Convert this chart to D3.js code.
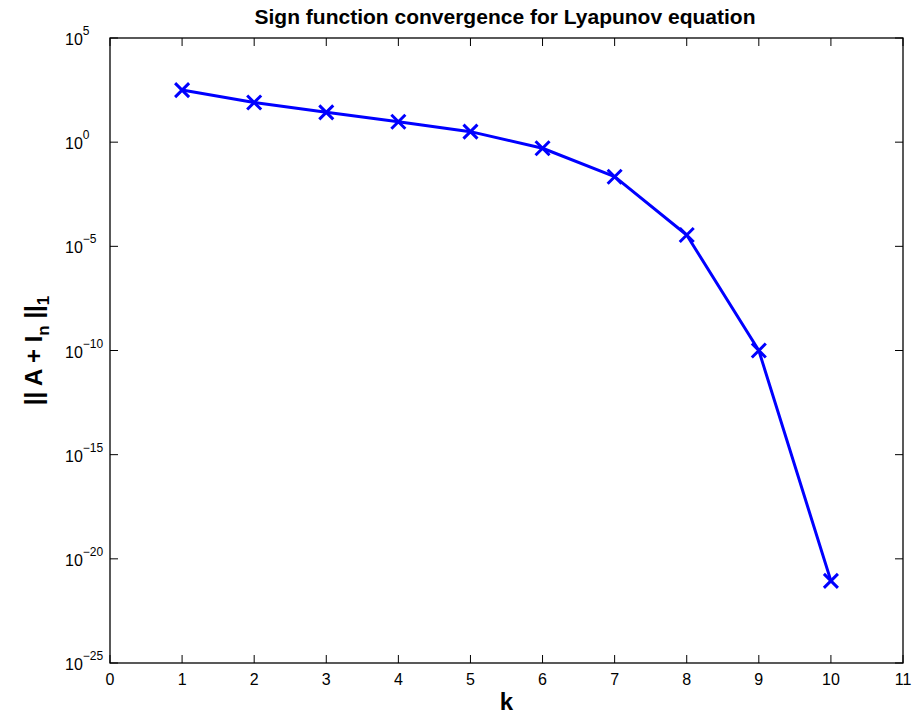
<!DOCTYPE html>
<html>
<head>
<meta charset="utf-8">
<script src="https://cdn.jsdelivr.net/npm/d3@7"></script>
<style>
  body { margin: 0; background: #fff; }
  svg { display: block; font-family: "Liberation Sans", Arial, sans-serif; }
</style>
</head>
<body>
<div id="chart"></div>
<script>
const iterations = [1, 2, 3, 4, 5, 6, 7, 8, 9, 10];
const residuals = [316, 80, 27, 9.6, 3.2, 0.51, 0.022, 3.5e-5, 1.0e-10, 8.7e-22];
const xTicks = [0, 1, 2, 3, 4, 5, 6, 7, 8, 9, 10, 11];
const yExponents = [5, 0, -5, -10, -15, -20, -25];

const width = 924;
const height = 715;
const margin = { top: 38, right: 21, bottom: 52, left: 110 };
const boundedWidth = width - margin.left - margin.right;
const boundedHeight = height - margin.top - margin.bottom;
const lineBlue = "#0000ff";

const svg = d3.select("#chart")
  .append("svg")
  .attr("width", width)
  .attr("height", height);

const g = svg.append("g")
  .attr("transform", `translate(${margin.left}, ${margin.top})`);

const x = d3.scaleLinear().domain([0, 11]).range([0, boundedWidth]);
const y = d3.scaleLog().domain([1e-25, 1e5]).range([boundedHeight, 0]);

const tickLen = 8;

// axes frame
g.append("rect")
  .attr("width", boundedWidth)
  .attr("height", boundedHeight)
  .attr("fill", "none")
  .attr("stroke", "#000")
  .attr("stroke-width", 1.3);

// x ticks (bottom + top, inward)
xTicks.forEach((t) => {
  g.append("line")
    .attr("x1", x(t)).attr("x2", x(t))
    .attr("y1", boundedHeight).attr("y2", boundedHeight - tickLen)
    .attr("stroke", "#000");
  g.append("line")
    .attr("x1", x(t)).attr("x2", x(t))
    .attr("y1", 0).attr("y2", tickLen)
    .attr("stroke", "#000");
  g.append("text")
    .attr("x", x(t))
    .attr("y", boundedHeight + 22)
    .attr("text-anchor", "middle")
    .style("font-size", "16px")
    .text(t);
});

// y ticks (left + right, inward)
yExponents.forEach((e) => {
  const yy = y(Math.pow(10, e));
  g.append("line")
    .attr("x1", 0).attr("x2", tickLen)
    .attr("y1", yy).attr("y2", yy)
    .attr("stroke", "#000");
  g.append("line")
    .attr("x1", boundedWidth).attr("x2", boundedWidth - tickLen)
    .attr("y1", yy).attr("y2", yy)
    .attr("stroke", "#000");
  const label = g.append("text")
    .attr("x", -45)
    .attr("y", yy + 7)
    .attr("text-anchor", "start")
    .style("font-size", "16px");
  label.append("tspan").text("10");
  label.append("tspan")
    .attr("dy", -10)
    .style("font-size", "12px")
    .text(e < 0 ? "\u2212" + Math.abs(e) : e);
});

const points = iterations.map((k, i) => ({ k, v: residuals[i] }));

const line = d3.line()
  .x((d) => x(d.k))
  .y((d) => y(d.v));

g.append("path")
  .datum(points)
  .attr("d", line)
  .attr("fill", "none")
  .attr("stroke", lineBlue)
  .attr("stroke-width", 3)
  .attr("stroke-linejoin", "round");

//markers
const m = 7;
g.selectAll(".marker")
  .data(points)
  .enter()
  .append("path")
  .attr("class", "marker")
  .attr("d", (d) => {
    const cx = x(d.k), cy = y(d.v);
    return `M${cx - m},${cy - m}L${cx + m},${cy + m}M${cx - m},${cy + m}L${cx + m},${cy - m}`;
  })
  .attr("stroke", lineBlue)
  .attr("stroke-width", 3);

// title
svg.append("text")
  .attr("x", 505)
  .attr("y", 24)
  .attr("text-anchor", "middle")
  .style("font-size", "21px")
  .style("font-weight", "bold")
  .text("Sign function convergence for Lyapunov equation");

// x label
svg.append("text")
  .attr("x", margin.left + boundedWidth / 2)
  .attr("y", 710)
  .attr("text-anchor", "middle")
  .style("font-size", "24px")
  .style("font-weight", "bold")
  .text("k");

// y label
const yLabel = svg.append("text")
  .attr("transform", `translate(42, ${margin.top + boundedHeight / 2}) rotate(-90)`)
  .attr("text-anchor", "middle")
  .style("font-size", "24px")
  .style("font-weight", "bold");
yLabel.append("tspan").text("|| A + I");
yLabel.append("tspan").attr("dy", 7).style("font-size", "17px").text("n");
yLabel.append("tspan").attr("dy", -7).text(" ||");
yLabel.append("tspan").attr("dy", 7).style("font-size", "17px").text("1");
</script>
</body>
</html>
